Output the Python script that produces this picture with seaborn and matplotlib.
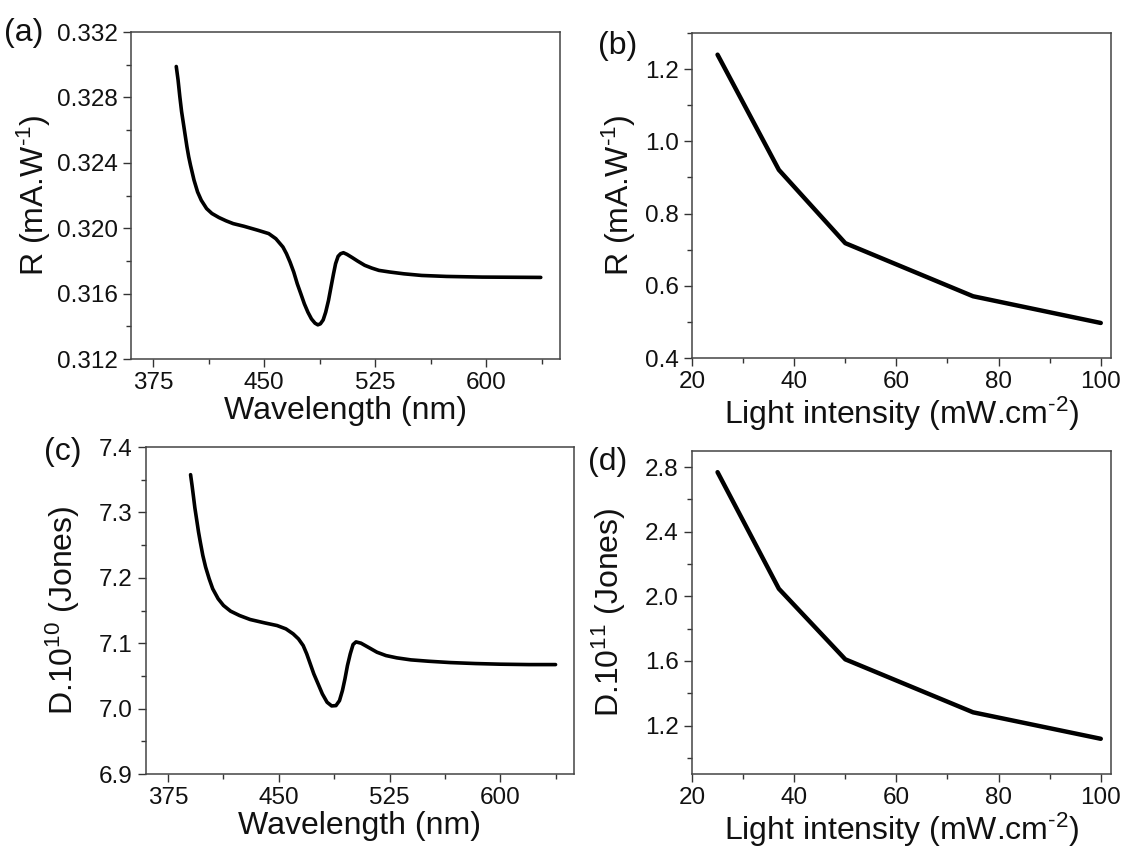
import numpy as np
import pandas as pd
import matplotlib
matplotlib.use("Agg")
import matplotlib.pyplot as plt
import seaborn as sns
from matplotlib.ticker import MultipleLocator, FormatStrFormatter

# ---- data ----
wl_a = [390.6, 391.8, 393.0, 394.2, 395.4, 396.6, 397.8, 399.0, 400.2, 402.6, 405.0,
        407.5, 411.1, 414.7, 419.5, 424.3, 429.1, 436.3, 445.9, 453.1, 457.9, 462.7,
        465.1, 467.5, 470.0, 472.4, 474.8, 477.2, 479.6, 482.0, 484.4, 486.3, 488.0,
        489.9, 491.6, 493.5, 495.2, 496.9, 498.3, 500.0, 501.7, 503.6, 506.0, 509.6,
        513.2, 518.0, 522.8, 527.6, 534.9, 544.5, 556.5, 573.3, 597.4, 637.0]
r_a = [0.32989, 0.32908, 0.32805, 0.32713, 0.32642, 0.32570, 0.32499, 0.32437, 0.32386,
       0.32294, 0.32222, 0.32171, 0.32120, 0.32090, 0.32065, 0.32045, 0.32028, 0.32012,
       0.31987, 0.31967, 0.31936, 0.31885, 0.31844, 0.31793, 0.31732, 0.31660, 0.31599,
       0.31537, 0.31486, 0.31445, 0.31419, 0.31409, 0.31415, 0.31439, 0.31486, 0.31558,
       0.31640, 0.31721, 0.31783, 0.31828, 0.31844, 0.31850, 0.31840, 0.31820, 0.31799,
       0.31773, 0.31756, 0.31742, 0.31732, 0.31721, 0.31711, 0.31705, 0.31701, 0.31699]

wl_c = [390.2, 391.2, 392.2, 393.1, 394.4, 395.6, 396.8, 398.5, 400.4, 402.8, 405.2,
        408.9, 412.5, 417.3, 423.4, 430.6, 440.3, 448.8, 454.8, 459.7, 463.3, 466.5,
        468.9, 471.3, 473.7, 476.6, 479.5, 482.7, 485.8, 488.7, 491.1, 493.1, 494.8,
        496.5, 498.4, 500.3, 502.3, 505.7, 510.5, 516.5, 522.6, 529.9, 539.5, 551.6,
        566.1, 583.1, 600.0, 619.4, 637.5]
d_c = [7.3577, 7.3413, 7.3235, 7.3071, 7.2878, 7.2699, 7.2546, 7.2342, 7.2163, 7.1985,
       7.1832, 7.1679, 7.1577, 7.1490, 7.1423, 7.1362, 7.1311, 7.1270, 7.1219, 7.1143,
       7.1066, 7.0964, 7.0837, 7.0684, 7.0531, 7.0378, 7.0224, 7.0097, 7.0041, 7.0046,
       7.0122, 7.0276, 7.0454, 7.0658, 7.0837, 7.0980, 7.1020, 7.1000, 7.0939, 7.0862,
       7.0811, 7.0776, 7.0745, 7.0724, 7.0704, 7.0689, 7.0679, 7.0673, 7.0673]

intensity = [25, 37, 50, 75, 100]
r_b = [1.240, 0.921, 0.718, 0.571, 0.497]
d_d = [2.769, 2.047, 1.610, 1.282, 1.118]

wl_ticks = [375, 450, 525, 600]
int_ticks = [20, 40, 60, 80, 100]

sns.set_theme(style="ticks")
plt.rcParams['font.family'] = ['Liberation Sans', 'DejaVu Sans']
plt.rcParams['mathtext.default'] = 'regular'

fig = plt.figure(figsize=(11.26, 8.47), dpi=100)
W, H = 1126, 847

def add_ax(l, t, r, b):
    return fig.add_axes([l / W, 1 - b / H, (r - l) / W, (b - t) / H])

ax_a = add_ax(131, 32, 560, 359)
ax_b = add_ax(692, 33, 1111, 358)
ax_c = add_ax(146, 447, 574, 774)
ax_d = add_ax(692, 451, 1111, 774)

lw_thin, lw_thick = 2.6, 3.2
sns.lineplot(data=pd.DataFrame({"x": wl_a, "y": r_a}), x="x", y="y", ax=ax_a,
             color="black", lw=lw_thin, sort=False)
sns.lineplot(data=pd.DataFrame({"x": intensity, "y": r_b}), x="x", y="y", ax=ax_b,
             color="black", lw=lw_thick, sort=False)
sns.lineplot(data=pd.DataFrame({"x": wl_c, "y": d_c}), x="x", y="y", ax=ax_c,
             color="black", lw=lw_thin, sort=False)
sns.lineplot(data=pd.DataFrame({"x": intensity, "y": d_d}), x="x", y="y", ax=ax_d,
             color="black", lw=lw_thick, sort=False)

tick_fs = 17.5
label_fs = 23

def style(ax, xlim, ylim, xt, xminor, ymajor, yminor, yfmt, xlabel, ylabel, ypad):
    ax.set_xlim(*xlim)
    ax.set_ylim(*ylim)
    ax.set_xticks(xt)
    ax.xaxis.set_minor_locator(MultipleLocator(xminor))
    ax.yaxis.set_major_locator(MultipleLocator(ymajor))
    ax.yaxis.set_minor_locator(MultipleLocator(yminor))
    ax.yaxis.set_major_formatter(FormatStrFormatter(yfmt))
    ax.tick_params(which="major", direction="out", length=6, width=1, color="#333333",
                   labelsize=tick_fs, labelcolor="#111111", pad=3.5)
    ax.tick_params(which="minor", direction="out", length=3.5, width=1, color="#333333")
    for s in ax.spines.values():
        s.set_linewidth(1.1)
        s.set_color("#444444")
    ax.set_xlabel(xlabel, fontsize=label_fs, color="#111111", labelpad=1)
    ax.set_ylabel(ylabel, fontsize=label_fs, color="#111111", labelpad=ypad)

style(ax_a, (360, 650), (0.312, 0.332), wl_ticks, 37.5, 0.004, 0.002, "%.3f",
      "Wavelength (nm)", "R (mA.W$^{\u2010 1}$)".replace("\u2010 ", "\u2010"), 3)
style(ax_b, (20, 102), (0.4, 1.3), int_ticks, 10, 0.2, 0.1, "%.1f",
      "Light intensity (mW.cm$^{\u20102}$)", "R (mA.W$^{\u20101}$)", 5)
style(ax_c, (360, 650), (6.9, 7.4), wl_ticks, 37.5, 0.1, 0.05, "%.1f",
      "Wavelength (nm)", "D.10$^{10}$ (Jones)", 12)
style(ax_d, (20, 102), (0.9, 2.9), int_ticks, 10, 0.4, 0.2, "%.1f",
      "Light intensity (mW.cm$^{\u20102}$)", "D.10$^{11}$ (Jones)", 12)

panel_fs = 23
fig.text(4 / W, 1 - 33 / H, "(a)", fontsize=panel_fs, va="center", ha="left", color="#111111")
fig.text(598 / W, 1 - 46 / H, "(b)", fontsize=panel_fs, va="center", ha="left", color="#111111")
fig.text(44 / W, 1 - 452 / H, "(c)", fontsize=panel_fs, va="center", ha="left", color="#111111")
fig.text(588 / W, 1 - 462 / H, "(d)", fontsize=panel_fs, va="center", ha="left", color="#111111")

fig.savefig("out.png", dpi=100, facecolor="white")
